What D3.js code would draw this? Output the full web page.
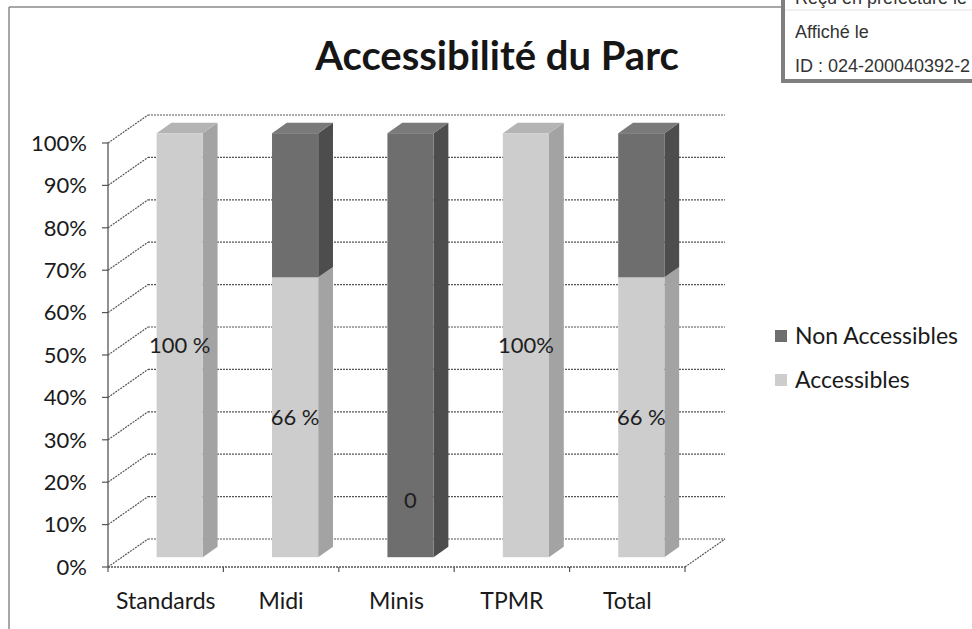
<!DOCTYPE html>
<html>
<head>
<meta charset="utf-8">
<script src="https://cdn.jsdelivr.net/npm/d3@7"></script>
<style>
  body { margin: 0; background: #fff; }
  svg { display: block; }
</style>
</head>
<body>
<svg id="base" width="972" height="629"></svg>
<script>
// data
var categories = ['Standards', 'Midi', 'Minis', 'TPMR', 'Total'];
var accessibles = [1.00, 0.66, 0.00, 1.00, 0.66];
var nonAccessibles = [0.00, 0.34, 1.00, 0.00, 0.34];
var labelTexts = ['100 %', '66 %', '0', '100%', '66 %'];
var yTicks = [0, 0.1, 0.2, 0.3, 0.4, 0.5, 0.6, 0.7, 0.8, 0.9, 1.0];
var seriesNames = ['Non Accessibles', 'Accessibles'];

var svg = d3.select('#base');
var font = 'Lato, "Open Sans", sans-serif';

// ------------------ scales ---------------------------
var x = d3.scaleBand().domain(categories).range([108, 685]).paddingInner(0.6).paddingOuter(0.3);
var y = d3.scaleLinear().domain([0, 1]).range([567, 143]);
// depth : 0 = front plane, 1 = back wall
var dX = d3.scaleLinear().domain([0, 1]).range([0, 40]);
var dY = d3.scaleLinear().domain([0, 1]).range([0, -28]);
var barFront = 0.35, barBack = 0.72;

var grid = '#555';

// ------------------ chart border ---------------------------
svg.append('line').attr('x1', 9).attr('y1', 7).attr('x2', 790).attr('y2', 7)
   .attr('stroke', '#8a8a8a').attr('stroke-width', 1.5);
svg.append('line').attr('x1', 9).attr('y1', 7).attr('x2', 9).attr('y2', 629)
   .attr('stroke', '#8a8a8a').attr('stroke-width', 1.5);

// ------------------ title ---------------------------
svg.append('text').attr('x', 497).attr('y', 70).attr('text-anchor', 'middle')
   .style('font-family', font).style('font-weight', 'bold').style('font-size', '40px')
   .attr('fill', '#161616').text('Accessibilité du Parc');

// ------------------ walls / grid ---------------------------
var x0 = x.range()[0], x1 = x.range()[1];

// back wall gridlines
svg.selectAll('.gridBack').data(yTicks).enter().append('line')
   .attr('x1', x0 + dX(1)).attr('x2', x1 + dX(1))
   .attr('y1', d => y(d) + dY(1)).attr('y2', d => y(d) + dY(1))
   .attr('stroke', grid).attr('stroke-width', 1.2).attr('stroke-dasharray', '2,1');

// left wall diagonals
svg.selectAll('.gridSide').data(yTicks).enter().append('line')
   .attr('x1', x0).attr('x2', x0 + dX(1))
   .attr('y1', d => y(d)).attr('y2', d => y(d) + dY(1))
   .attr('stroke', grid).attr('stroke-width', 1.2).attr('stroke-dasharray', '2,1');

// floor front + right edge
svg.append('line').attr('x1', x0).attr('x2', x1).attr('y1', y(0)).attr('y2', y(0))
   .attr('stroke', grid).attr('stroke-width', 1.3).attr('stroke-dasharray', '2,1');
svg.append('line').attr('x1', x1).attr('x2', x1 + dX(1)).attr('y1', y(0)).attr('y2', y(0) + dY(1))
   .attr('stroke', grid).attr('stroke-width', 1.2).attr('stroke-dasharray', '2,1');

// y axis
svg.append('line').attr('x1', x0).attr('x2', x0).attr('y1', y(0)).attr('y2', y(1))
   .attr('stroke', grid).attr('stroke-width', 1.3);
svg.selectAll('.ytick').data(yTicks).enter().append('line')
   .attr('x1', x0 - 6).attr('x2', x0).attr('y1', d => y(d)).attr('y2', d => y(d))
   .attr('stroke', grid).attr('stroke-width', 1.2);
svg.selectAll('.ylab').data(yTicks).enter().append('text')
   .attr('x', 87).attr('y', d => y(d)).attr('dy', '0.35em').attr('text-anchor', 'end')
   .style('font-family', font).style('font-size', '22px').attr('fill', '#1a1a1a')
   .text(d => d3.format('.0%')(d));

// x ticks at band boundaries
var xBounds = d3.range(categories.length + 1).map(i => x0 + i * (x1 - x0) / categories.length);
svg.selectAll('.xtick').data(xBounds).enter().append('line')
   .attr('x1', d => d).attr('x2', d => d).attr('y1', y(0)).attr('y2', y(0) + 5)
   .attr('stroke', grid).attr('stroke-width', 1.2);
svg.selectAll('.xlab').data(categories).enter().append('text')
   .attr('x', d => x(d) + x.bandwidth() / 2).attr('y', 609).attr('text-anchor', 'middle')
   .style('font-family', font).style('font-size', '23px').attr('fill', '#1a1a1a')
   .text(d => d);

// ------------------ bars ---------------------------
var light = {front: '#cdcdcd', side: '#a3a3a3', top: '#b4b4b4'};
var dark = {front: '#6e6e6e', side: '#4d4d4d', top: '#7a7a7a'};

function pts(p) { return p.map(q => q.join(',')).join(' '); }

var segments = [];
categories.forEach((c, i) => {
    segments.push({cat: c, v0: 0, v1: accessibles[i], col: light, topmost: nonAccessibles[i] == 0});
    segments.push({cat: c, v0: accessibles[i], v1: accessibles[i] + nonAccessibles[i], col: dark, topmost: true});
});
segments = segments.filter(s => s.v1 > s.v0);

var bars = svg.append('g');
segments.forEach(s => {
    var xl = x(s.cat) + dX(barFront), xr = xl + x.bandwidth();
    var yb = y(s.v0) + dY(barFront), yt = y(s.v1) + dY(barFront);
    var ox = dX(barBack) - dX(barFront), oy = dY(barBack) - dY(barFront);
    // side
    bars.append('polygon').attr('points', pts([[xr, yt], [xr + ox, yt + oy], [xr + ox, yb + oy], [xr, yb]]))
        .attr('fill', s.col.side);
    // top
    if (s.topmost) {
        bars.append('polygon').attr('points', pts([[xl, yt], [xl + ox, yt + oy], [xr + ox, yt + oy], [xr, yt]]))
            .attr('fill', s.col.top);
    }
    // front
    bars.append('rect').attr('x', xl).attr('y', yt).attr('width', x.bandwidth()).attr('height', yb - yt)
        .attr('fill', s.col.front);
});

// ------------------ data labels ---------------------------
svg.selectAll('.dlab').data(categories).enter().append('text')
   .attr('x', d => x(d) + dX(barFront) + x.bandwidth() / 2)
   .attr('y', (d, i) => accessibles[i] > 0 ? y(accessibles[i] / 2) + dY(barFront) : y(0) + dY(barFront) - 57)
   .attr('dy', '0.35em').attr('text-anchor', 'middle')
   .style('font-family', font).style('font-size', '22px').attr('fill', '#1e1e1e')
   .text((d, i) => labelTexts[i]);

// ------------------ legend ---------------------------
var legend = svg.selectAll('.leg').data(seriesNames).enter().append('g')
   .attr('transform', (d, i) => `translate(775, ${336 + i * 44})`);
legend.append('rect').attr('x', 0).attr('y', -6).attr('width', 12).attr('height', 12)
   .attr('fill', (d, i) => i == 0 ? dark.front : light.front);
legend.append('text').attr('x', 20).attr('y', 0).attr('dy', '0.35em')
   .style('font-family', font).style('font-size', '23px').attr('fill', '#1a1a1a')
   .text(d => d);

// ------------------ stamp box ---------------------------
var stamp = svg.append('g');
stamp.append('rect').attr('x', 783).attr('y', -10).attr('width', 200).attr('height', 91)
     .attr('fill', '#fff').attr('stroke', '#7f7f7f').attr('stroke-width', 4);
stamp.append('line').attr('x1', 785).attr('x2', 972).attr('y1', 10).attr('y2', 10)
     .attr('stroke', '#e2e2e2').attr('stroke-width', 1);
var stampLines = ['Reçu en préfecture le', 'Affiché le', 'ID : 024-200040392-2'];
stamp.selectAll('text').data(stampLines).enter().append('text')
     .attr('x', 795).attr('y', (d, i) => 4 + i * 34)
     .style('font-family', '"Liberation Sans", Arial, sans-serif').style('font-size', '18px')
     .attr('fill', '#333').text(d => d);
</script>
</body>
</html>
